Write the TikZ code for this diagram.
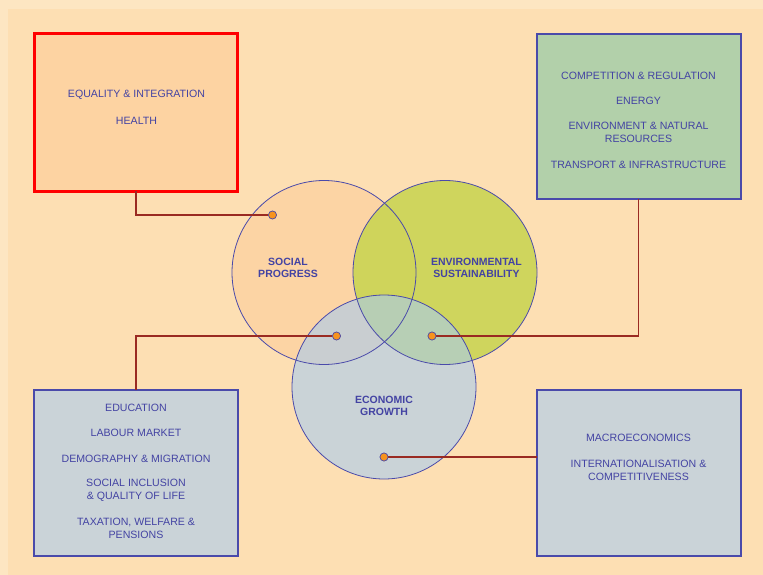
\documentclass[tikz,border=0pt]{standalone}
\usepackage{fontspec}
\setmainfont{Liberation Sans}
\definecolor{bgouter}{HTML}{FDE6C2}
\definecolor{bginner}{HTML}{FDDFB3}
\definecolor{txt}{HTML}{4343A3}
\definecolor{edge}{HTML}{4A4AAA}
\definecolor{redfill}{HTML}{FDD3A2}
\definecolor{greenfill}{HTML}{B2D0AA}
\definecolor{greyfill}{HTML}{CAD3D8}
\definecolor{socfill}{HTML}{FCD4A4}
\definecolor{envfill}{HTML}{C9D452}
\definecolor{ecofill}{RGB}{168,203,240}
\definecolor{conn}{HTML}{9A2A22}
\definecolor{dotfill}{HTML}{F7931E}
\tikzset{
  lbl/.style={text=txt, font=\fontsize{10.6}{13}\selectfont, align=center},
  clbl/.style={text=txt, font=\bfseries\fontsize{10.5}{12}\selectfont, align=center},
  ring/.style={draw=edge, line width=0.8pt},
  conline/.style={draw=conn, line width=1.1pt},
  dot/.style={circle, fill=dotfill, draw=edge, line width=0.6pt, inner sep=0pt, minimum size=8pt}
}
\begin{document}
\begin{tikzpicture}[x=1pt,y=-1pt]
\useasboundingbox (0,0) rectangle (763,575);
\fill[bgouter] (0,0) rectangle (763,575);
\fill[bginner] (8,9) rectangle (763,575);
% boxes
\draw[draw=red, line width=3pt, fill=redfill] (34,34) rectangle (237,191);
\coordinate (rb) at (136,191);
\draw[edge, line width=1.6pt, fill=greenfill] (537,34) rectangle (741,199);
\coordinate (gb) at (638.5,199);
\draw[edge, line width=1.6pt, fill=greyfill] (34,390) rectangle (238,556);
\coordinate (lb) at (136,390);
\draw[edge, line width=1.6pt, fill=greyfill] (537,390) rectangle (741,556);
\coordinate (brb) at (537,457);
% box texts
\node[lbl] (t1) at (136.5,94.5) {EQUALITY \& INTEGRATION};
\node[lbl] (t2) at (136.5,120.5) {HEALTH};
\node[lbl] (g1) at (638.5,75.5) {COMPETITION \& REGULATION};
\node[lbl] (g2) at (638.5,100.5) {ENERGY};
\node[lbl] (g3) at (638.5,132) {ENVIRONMENT \& NATURAL\\RESOURCES};
\node[lbl] (g4) at (638.5,164.5) {TRANSPORT \& INFRASTRUCTURE};
\node[lbl] (l1) at (136,407.5) {EDUCATION};
\node[lbl] (l2) at (136,432.5) {LABOUR MARKET};
\node[lbl] (l3) at (136,458.5) {DEMOGRAPHY \& MIGRATION};
\node[lbl] (l4) at (136,490) {SOCIAL INCLUSION\\\& QUALITY OF LIFE};
\node[lbl] (l5) at (136,528.5) {TAXATION, WELFARE \&\\PENSIONS};
\node[lbl] (r1) at (638.5,437.5) {MACROECONOMICS};
\node[lbl] (r2) at (638.5,470) {INTERNATIONALISATION \&\\COMPETITIVENESS};
% circles
\fill[socfill] (324,272.5) circle (92);
\fill[envfill, fill opacity=0.88] (445,272.5) circle (92);
\fill[ecofill, fill opacity=0.6] (384,387) circle (92);
\draw[ring] (324,272.5) circle (92);
\draw[ring] (445,272.5) circle (92);
\draw[ring] (384,387) circle (92);
\node[clbl] (soc) at (288,267.5) {SOCIAL\\PROGRESS};
\node[clbl] (env) at (476.5,267.5) {ENVIRONMENTAL\\SUSTAINABILITY};
\node[clbl] (eco) at (384,405.5) {ECONOMIC\\GROWTH};
% dots
\node[dot] (d1) at (272.5,215) {};
\node[dot] (d2) at (336.5,336) {};
\node[dot] (d3) at (432,336) {};
\node[dot] (d4) at (384,457) {};
% connectors
\draw[conline] (rb) |- (d1);
\draw[conline] (lb) |- (d2);
\draw[conline] (gb) |- (d3);
\draw[conline] (brb) -- (d4);
\node[dot] at (d1) {};
\node[dot] at (d2) {};
\node[dot] at (d3) {};
\node[dot] at (d4) {};
\end{tikzpicture}
\end{document}
